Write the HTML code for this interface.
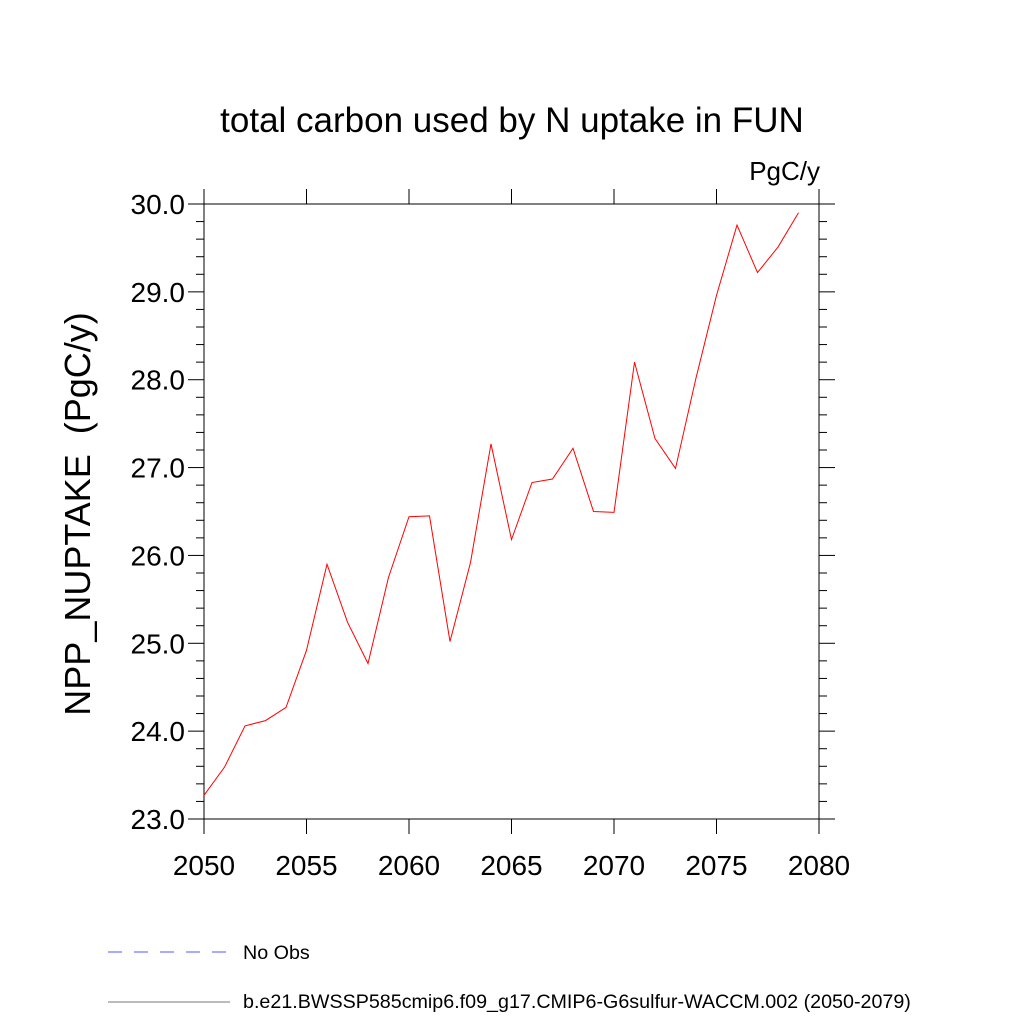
<!DOCTYPE html>
<html><head><meta charset="utf-8"><style>
body{margin:0;background:#fff;}
svg text{font-family:"Liberation Sans",sans-serif;fill:#000;}
</style></head><body>
<svg width="1024" height="1024" viewBox="0 0 1024 1024">
<text x="512" y="132" font-size="35" text-anchor="middle">total carbon used by N uptake in FUN</text>
<text x="820" y="180" font-size="26" text-anchor="end">PgC/y</text>
<text transform="translate(90,514) rotate(-90)" font-size="36" text-anchor="middle" xml:space="preserve">NPP_NUPTAKE  (PgC/y)</text>
<g id="axes"></g>
<rect x="204" y="204" width="615" height="615" fill="none" stroke="#000" stroke-width="1"/>
<polyline id="series" fill="none" stroke="#ff0000" stroke-width="1"/>
<line x1="108" y1="952" x2="230" y2="952" stroke="#5555ff" stroke-width="1" stroke-dasharray="14,12"/>
<text x="243" y="959" font-size="19.7">No Obs</text>
<line x1="108" y1="1002" x2="230" y2="1002" stroke="#777" stroke-width="1"/>
<text x="243" y="1008" font-size="19.7">b.e21.BWSSP585cmip6.f09_g17.CMIP6-G6sulfur-WACCM.002 (2050-2079)</text>
</svg>
<script>
const years=[2050,2051,2052,2053,2054,2055,2056,2057,2058,2059,2060,2061,2062,2063,2064,2065,2066,2067,2068,2069,2070,2071,2072,2073,2074,2075,2076,2077,2078,2079];
const values=[23.27,23.59,24.06,24.12,24.27,24.92,25.90,25.24,24.77,25.75,26.44,26.45,25.02,25.92,27.27,26.18,26.83,26.87,27.22,26.50,26.49,28.20,27.33,26.99,28.02,28.96,29.76,29.22,29.51,29.90];
const xTicks=[2050,2055,2060,2065,2070,2075,2080];
const yTicks=[23,24,25,26,27,28,29,30];
const xMin=2050,xMax=2080,yMin=23,yMax=30;
const L=204,R=819,T=204,B=819;
function sx(v){return L+(v-xMin)/(xMax-xMin)*(R-L);}
function sy(v){return B-(v-yMin)/(yMax-yMin)*(B-T);}
const NS="http://www.w3.org/2000/svg";
const axes=document.getElementById('axes');
function ln(x1,y1,x2,y2,name){const l=document.createElementNS(NS,'line');l.setAttribute('x1',x1);l.setAttribute('y1',y1);l.setAttribute('x2',x2);l.setAttribute('y2',y2);l.setAttribute('stroke','#000');l.setAttribute('stroke-width','1');


axes.appendChild(l);}
function tx(x,y,s,anchor,name){const t=document.createElementNS(NS,'text');t.setAttribute('x',x);t.setAttribute('y',y);t.setAttribute('font-size','28');t.setAttribute('text-anchor',anchor);t.textContent=s;


axes.appendChild(t);}
xTicks.forEach(v=>{const x=sx(v);ln(x,B,x,B+15,'x-tick');ln(x,T,x,T-15,'x-tick-top');tx(x,B+56,String(v),'middle','x-tick-label');});
for(let v=yMin;v<=yMax+1e-9;v+=0.2){const y=sy(v);const major=Math.abs(v-Math.round(v))<1e-6;const len=major?16:8;ln(L-len,y,L,y,'y-tick');ln(R,y,R+len,y,'y-tick-right');}
yTicks.forEach(v=>{tx(L-19,sy(v)+10,v.toFixed(1),'end','y-tick-label');});
document.getElementById('series').setAttribute('points',years.map((y,i)=>sx(y)+','+sy(values[i])).join(' '));
</script>
</body></html>
